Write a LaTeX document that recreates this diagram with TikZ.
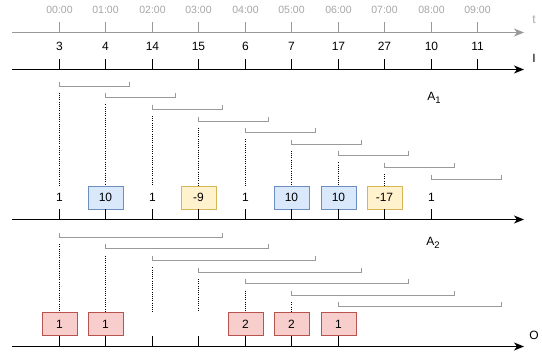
\documentclass[tikz,border=0pt]{standalone}
\usepackage{fontspec}
\setmainfont{Liberation Sans}
\usetikzlibrary{arrows.meta}
\definecolor{tgray}{HTML}{999999}
\definecolor{tlab}{HTML}{A6A6A6}
\definecolor{bgray}{HTML}{9A9A9A}
\definecolor{bluef}{HTML}{DAE8FC}\definecolor{blued}{HTML}{6C8EBF}
\definecolor{yelf}{HTML}{FFF2CC}\definecolor{yeld}{HTML}{D6B656}
\definecolor{redf}{HTML}{F8CECC}\definecolor{redd}{HTML}{B85450}
\tikzset{
  axis/.style={line width=1.1pt, -{Stealth[length=10pt,width=8pt,inset=3pt]}},
  tick/.style={line width=1.1pt},
  bracket/.style={bgray, line width=1.5pt},
  dots/.style={line width=0.9pt, dash pattern=on 1pt off 1.2pt},
  lab/.style={font=\fontsize{12}{14}\selectfont, inner sep=0pt},
  tlabel/.style={font=\fontsize{10.5}{12}\selectfont, text=tlab, inner sep=0pt},
  valbox/.style={draw, line width=0.9pt, minimum width=35pt, minimum height=23pt, inner sep=0pt, font=\fontsize{12}{14}\selectfont},
  bluebox/.style={valbox, fill=bluef, draw=blued},
  yelbox/.style={valbox, fill=yelf, draw=yeld},
  redbox/.style={valbox, fill=redf, draw=redd},
  plainval/.style={lab}
}
\newcommand\mysub[1]{\raisebox{-3pt}{\fontsize{9.5}{10}\selectfont #1}}
\begin{document}
\begin{tikzpicture}[x=1pt,y=-1pt]
\useasboundingbox (0,0) rectangle (542,354);
\def\dx{46.45}
% time axis
\coordinate (ts) at (12,32.5); \coordinate (te) at (524,32.5);
\draw[axis, tgray] (ts) -- (te);
\node[tlabel, font=\fontsize{12}{14}\selectfont] (tl) at (534,20) {t};
\foreach \i/\l in {0/00:00,1/01:00,2/02:00,3/03:00,4/04:00,5/05:00,6/06:00,7/07:00,8/08:00,9/09:00}{
  \pgfmathsetmacro\xx{round(59+\dx*\i)+0.5}
  \coordinate (tt\i) at (\xx,32.5);
  \draw[tick, tgray] (tt\i) -- ++(0,-11);
  \node[tlabel] (tn\i) at (\xx,10) {\l};
}
% I axis
\coordinate (is) at (12,69.5); \coordinate (ie) at (524,69.5);
\draw[axis] (is) -- (ie);
\node[lab] (il) at (534,58) {I};
\foreach \i/\v in {0/3,1/4,2/14,3/15,4/6,5/7,6/17,7/27,8/10,9/11}{
  \pgfmathsetmacro\xx{round(59+\dx*\i)+0.5}
  \coordinate (it\i) at (\xx,69.5);
  \draw[tick] (it\i) -- ++(0,-11);
  \node[lab] (iv\i) at (\xx,46) {\v};
}
% A1
\node[lab] (a1) at (434,98) {A\mysub{1}};
\foreach \i in {0,...,8}{
  \pgfmathsetmacro\xx{round(59+\dx*\i)+0.5}
  \pgfmathsetmacro\yb{round(85.7+11.62*\i)+0.5}
  \draw[bracket] (\xx,\yb-5) -- (\xx,\yb) -- (\xx+70,\yb) -- ++(0,-5);
}
\foreach \i/\s/\v in {0/plainval/1,1/bluebox/10,2/plainval/1,3/yelbox/-9,4/plainval/1,5/bluebox/10,6/bluebox/10,7/yelbox/-17,8/plainval/1}{
  \pgfmathsetmacro\xx{round(59+\dx*\i)+0.5}
  \node[\s] (b\i) at (\xx,197.5) {\v};
}
\foreach \i in {0,...,7}{
  \pgfmathsetmacro\xx{round(59+\dx*\i)+0.5}
  \pgfmathsetmacro\yb{85.7+11.62*\i+7}
  \coordinate (d\i) at (\xx,\yb);
  \draw[dots] (d\i) -- (\xx,185.5);
}
\coordinate (as) at (12,219.5); \coordinate (ae) at (524,219.5);
\draw[axis] (as) -- (ae);
\foreach \i in {0,...,8}{
  \pgfmathsetmacro\xx{round(59+\dx*\i)+0.5}
  \coordinate (at\i) at (\xx,219.5);
  \draw[tick] (at\i) -- ++(0,-11);
}
% A2
\node[lab] (a2) at (433,243) {A\mysub{2}};
\foreach \i in {0,...,6}{
  \pgfmathsetmacro\xx{round(59+\dx*\i)+0.5}
  \pgfmathsetmacro\yb{round(236.7+11.6*\i)+0.5}
  \draw[bracket] (\xx,\yb-5) -- (\xx,\yb) -- (\xx+163,\yb) -- ++(0,-5);
}
\foreach \i in {0,...,5}{
  \pgfmathsetmacro\xx{round(59+\dx*\i)+0.5}
  \pgfmathsetmacro\yb{236.7+11.6*\i+7.5}
  \coordinate (e\i) at (\xx,\yb);
  \draw[dots] (e\i) -- (\xx,311.5);
}
\foreach \i/\v in {0/1,1/1,4/2,5/2,6/1}{
  \pgfmathsetmacro\xx{round(59+\dx*\i)+0.5}
  \node[redbox] (r\i) at (\xx,324) {\v};
}
\coordinate (os) at (12,346.5); \coordinate (oe) at (524,346.5);
\draw[axis] (os) -- (oe);
\node[lab] (ol) at (534,335) {O};
\foreach \i in {0,...,6}{
  \pgfmathsetmacro\xx{round(59+\dx*\i)+0.5}
  \coordinate (ot\i) at (\xx,346.5);
  \draw[tick] (ot\i) -- ++(0,-10.5);
}
\end{tikzpicture}
\end{document}
